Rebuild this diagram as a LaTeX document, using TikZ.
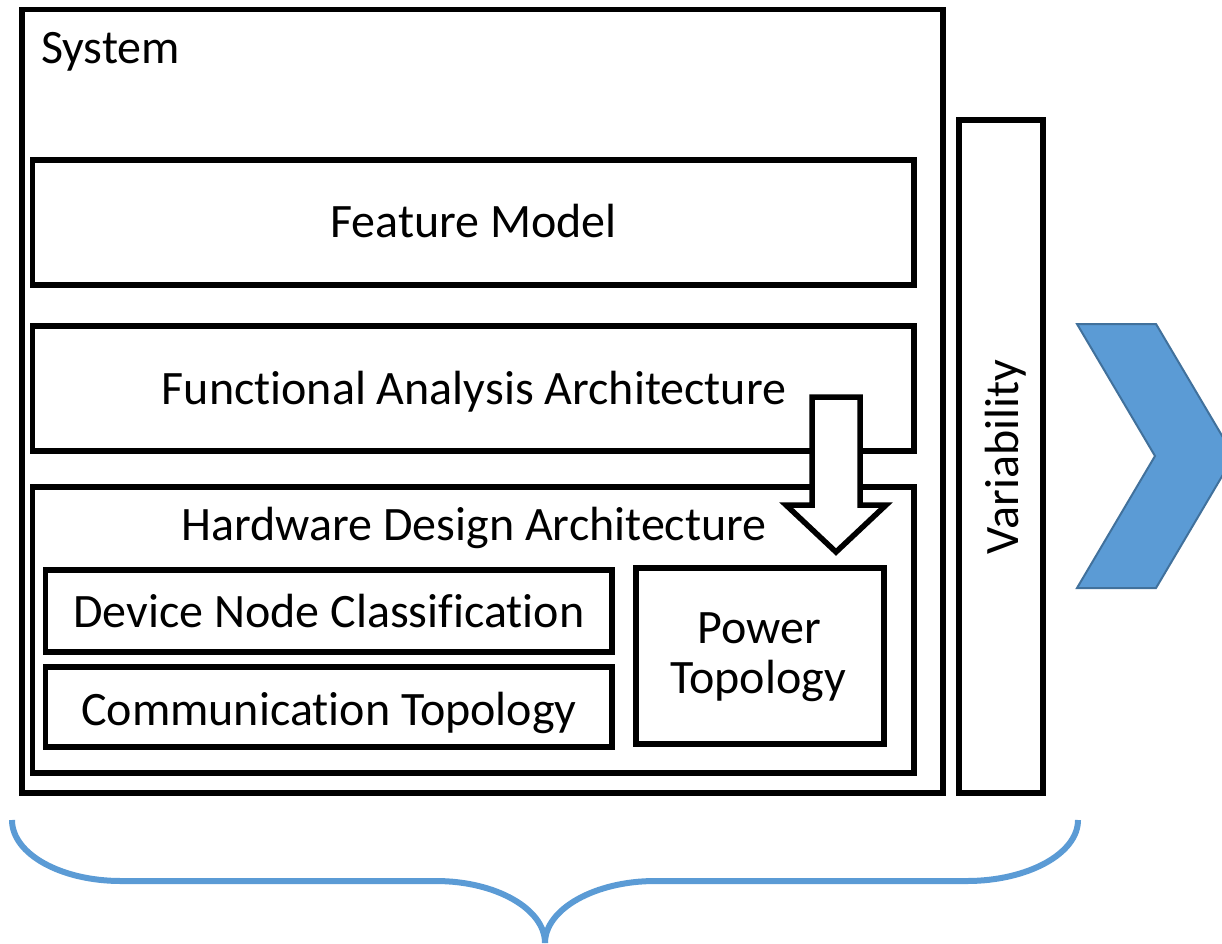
\documentclass[tikz,border=0pt]{standalone}
\usepackage{fontspec}
\setmainfont[Ligatures=NoCommon]{Carlito}
\definecolor{accent}{HTML}{5B9BD5}
\definecolor{accentdark}{HTML}{41719C}
\tikzset{
  layer/.style={draw=black, line width=5.5pt, fill=none, inner sep=0pt, outer sep=0pt},
  label/.style={inner sep=0pt, outer sep=0pt, font=\fontsize{48}{52}\selectfont},
}
\begin{document}
\begin{tikzpicture}[x=1pt, y=-1pt]
  \clip (0,0) rectangle (1222,943);
  \useasboundingbox (0,0) rectangle (1222,943);

  % system frame and its layers
  \node[layer, minimum width=921pt, minimum height=783.5pt] (sys) at (482.5,401.25) {};
  \node[label, anchor=base west] (systext) at (41,63) {System};

  \node[layer, minimum width=881.5pt, minimum height=125pt] (fm) at (473.25,222.5) {};
  \node[label, anchor=base] (fmtext) at (473.5,237.5) {Feature Model};

  \node[layer, minimum width=881.5pt, minimum height=125pt] (faa) at (473.25,388.5) {};
  \node[label, anchor=base] (faatext) at (474,404) {Functional Analysis Architecture};

  \node[layer, minimum width=881.5pt, minimum height=286pt] (hda) at (473.25,630) {};
  \node[label, anchor=base] (hdatext) at (474,540.5) {Hardware Design Architecture};

  \node[layer, minimum width=566.5pt, minimum height=82pt] (dnc) at (328.75,611) {};
  \node[label, anchor=base] (dnctext) at (329,627) {Device Node Classification};

  \node[layer, minimum width=566.5pt, minimum height=80pt] (ct) at (328.75,707) {};
  \node[label, anchor=base] (cttext) at (329,725) {Communication Topology};

  \node[layer, minimum width=248pt, minimum height=176pt] (pt) at (760,656) {};
  \node[label, anchor=base] (pttext1) at (759,643) {Power};
  \node[label, anchor=base] (pttext2) at (758,693) {Topology};

  % variability bar
  \node[layer, minimum width=84pt, minimum height=673pt] (var) at (1001,456.5) {};
  \node[label, anchor=base, rotate=90] (vartext) at (1018,457) {Variability};

  % block arrow from the functional layer into the power topology
  \draw[line width=5.5pt, fill=white, line join=miter]
    (812,397) -- (860,397) -- (860,505) -- (886,505) -- (836,552)
    -- (786,505) -- (812,505) -- cycle;

  % chevron on the right
  \draw[draw=accentdark, line width=2pt, fill=accent, line join=miter]
    (1077,324) -- (1156,324) -- (1234,456) -- (1156,588) -- (1077,588)
    -- (1155,456) -- cycle;

  % brace below
  \draw[draw=accent, line width=6pt]
    (12,820) .. controls (12,854) and (61,881) .. (121,881) -- (436,881)
    .. controls (496,881) and (545,909) .. (545,943);
  \draw[draw=accent, line width=6pt]
    (1078,820) .. controls (1078,854) and (1027,881) .. (967,881) -- (655,881)
    .. controls (595,881) and (545,909) .. (545,943);
\end{tikzpicture}
\end{document}
